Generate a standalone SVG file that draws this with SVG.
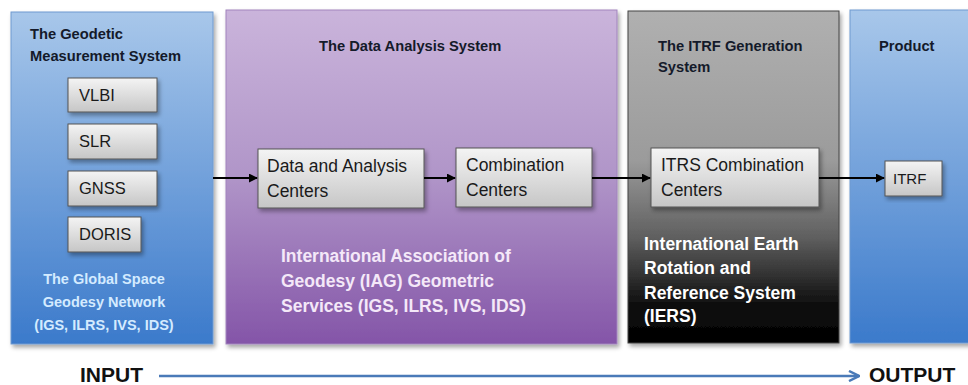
<svg xmlns="http://www.w3.org/2000/svg" width="968" height="385" viewBox="0 0 968 385">
<defs>
  <linearGradient id="gBlue" x1="0" y1="0" x2="0" y2="1">
    <stop offset="0" stop-color="#a8c7ea"/>
    <stop offset="1" stop-color="#3b7acb"/>
  </linearGradient>
  <linearGradient id="gPurple" x1="0" y1="0" x2="0" y2="1">
    <stop offset="0" stop-color="#cab4db"/>
    <stop offset="0.5" stop-color="#b095c8"/>
    <stop offset="1" stop-color="#8455a8"/>
  </linearGradient>
  <linearGradient id="gGray" x1="0" y1="0" x2="0" y2="1">
    <stop offset="0" stop-color="#b0b0b0"/>
    <stop offset="0.45" stop-color="#9b9b9b"/>
    <stop offset="0.68" stop-color="#606060"/>
    <stop offset="0.88" stop-color="#101010"/>
    <stop offset="1" stop-color="#000"/>
  </linearGradient>
  <linearGradient id="gBox" x1="0" y1="0" x2="0" y2="1">
    <stop offset="0" stop-color="#f4f4f4"/>
    <stop offset="1" stop-color="#c6c6c6"/>
  </linearGradient>
  <filter id="shadow" x="-10%" y="-10%" width="130%" height="130%">
    <feDropShadow dx="2" dy="3" stdDeviation="2" flood-color="#000" flood-opacity="0.35"/>
  </filter>
  <marker id="ah" viewBox="0 0 10 10" refX="9" refY="5" markerWidth="4.5" markerHeight="4.5" orient="auto" markerUnits="strokeWidth">
    <path d="M0,0 L10,5 L0,10 Z" fill="#000"/>
  </marker>
  <marker id="ahBlue" viewBox="0 0 10 10" refX="9" refY="5" markerWidth="5" markerHeight="5" orient="auto" markerUnits="strokeWidth">
    <path d="M1,1 L9,5 L1,9" fill="none" stroke="#4a7ab8" stroke-width="2"/>
  </marker>
  <style>
    text { font-family: "Liberation Sans", Arial, sans-serif; }
    .title { font-size: 14.7px; font-weight: bold; fill: #141a2a; }
    .box { fill: url(#gBox); stroke: #555; stroke-width: 1; filter: url(#shadow); }
    .blabel { font-size: 16.5px; fill: #1a1a1a; }
    .clabel { font-size: 17.5px; fill: #1a1a1a; }
    .bluetxt { font-size: 14.5px; font-weight: bold; fill: #d4ebff; }
    .purptxt { font-size: 17.5px; font-weight: bold; fill: #f4e8f8; }
    .iers { font-size: 17.5px; font-weight: bold; fill: #ffffff; }
    .conn { stroke: #000; stroke-width: 2; fill: none; marker-end: url(#ah); }
    .io { font-size: 21px; font-weight: bold; fill: #111; }
  </style>
</defs>

<g id="panel-measurement">
  <rect x="11" y="12" width="202" height="332" fill="url(#gBlue)" stroke="#6f9ad0" stroke-width="1" filter="url(#shadow)"/>
  <text class="title" x="30" y="39">The Geodetic</text>
  <text class="title" x="30" y="61">Measurement System</text>
  <text class="bluetxt" x="104" y="284" text-anchor="middle">The Global Space</text>
  <text class="bluetxt" x="104" y="307" text-anchor="middle">Geodesy Network</text>
  <text class="bluetxt" x="104" y="330" text-anchor="middle">(IGS, ILRS, IVS, IDS)</text>
</g>
<g id="node-vlbi">
  <rect class="box" x="68" y="78" width="89" height="34"/>
  <text class="blabel" x="79" y="101">VLBI</text>
</g>
<g id="node-slr">
  <rect class="box" x="68" y="124" width="89" height="35"/>
  <text class="blabel" x="79" y="147">SLR</text>
</g>
<g id="node-gnss">
  <rect class="box" x="68" y="171" width="89" height="35"/>
  <text class="blabel" x="79" y="194">GNSS</text>
</g>
<g id="node-doris">
  <rect class="box" x="68" y="217" width="73" height="35"/>
  <text class="blabel" x="79" y="240">DORIS</text>
</g>

<g id="panel-analysis">
  <rect x="226" y="10" width="391" height="334" fill="url(#gPurple)" stroke="#a184bd" stroke-width="1" filter="url(#shadow)"/>
  <text class="title" x="319" y="51">The Data Analysis System</text>
  <text class="purptxt" x="281" y="262">International Association of</text>
  <text class="purptxt" x="281" y="287">Geodesy (IAG) Geometric</text>
  <text class="purptxt" x="281" y="312">Services (IGS, ILRS, IVS, IDS)</text>
</g>
<g id="node-dac">
  <rect class="box" x="258" y="149" width="166" height="59"/>
  <text class="clabel" x="267" y="172">Data and Analysis</text>
  <text class="clabel" x="267" y="197">Centers</text>
</g>
<g id="node-cc">
  <rect class="box" x="456" y="148" width="136" height="59"/>
  <text class="clabel" x="466" y="171">Combination</text>
  <text class="clabel" x="466" y="196">Centers</text>
</g>

<g id="panel-itrf">
  <rect x="628" y="11" width="211" height="332" fill="url(#gGray)" stroke="#444" stroke-width="1" filter="url(#shadow)"/>
  <text class="title" x="658" y="51">The ITRF Generation</text>
  <text class="title" x="658" y="72">System</text>
  <text class="iers" x="644" y="250">International Earth</text>
  <text class="iers" x="644" y="274">Rotation and</text>
  <text class="iers" x="644" y="299">Reference System</text>
  <text class="iers" x="644" y="322">(IERS)</text>
</g>
<g id="node-itrs">
  <rect class="box" x="651" y="148" width="168" height="59"/>
  <text class="clabel" x="661" y="171">ITRS Combination</text>
  <text class="clabel" x="661" y="196">Centers</text>
</g>

<g id="panel-product">
  <rect x="850" y="10" width="125" height="333" fill="url(#gBlue)" stroke="#6f9ad0" stroke-width="1" filter="url(#shadow)"/>
  <text class="title" x="879" y="51">Product</text>
</g>
<g id="node-itrf">
  <rect class="box" x="885" y="161" width="57" height="35"/>
  <text class="blabel" x="893" y="184" style="font-size:15px">ITRF</text>
</g>

<g id="connectors">
  <line class="conn" x1="213" y1="178" x2="257" y2="178"/>
  <line class="conn" x1="424" y1="178" x2="455" y2="178"/>
  <line class="conn" x1="592" y1="178" x2="650" y2="178"/>
  <line class="conn" x1="819" y1="178" x2="884" y2="178"/>
  <line x1="159" y1="376" x2="859" y2="376" stroke="#4a7ab8" stroke-width="2.5" marker-end="url(#ahBlue)"/>
</g>

<g id="labels-io">
  <text class="io" x="80" y="382">INPUT</text>
  <text class="io" x="869" y="382">OUTPUT</text>
</g>
</svg>
